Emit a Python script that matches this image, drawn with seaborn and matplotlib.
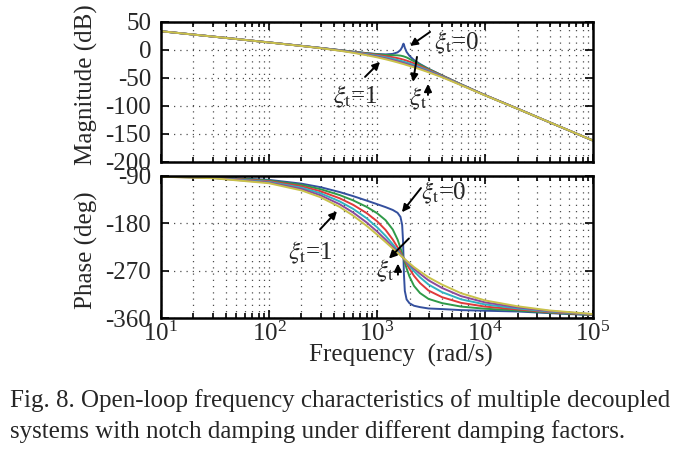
import matplotlib
matplotlib.use("Agg")
import matplotlib.pyplot as plt
import seaborn as sns
import pandas as pd
from matplotlib.ticker import LogLocator, NullFormatter, FixedLocator


## Damping factors and line colours (xi_t = 0 ... 1)
XI = ["0", "0.2", "0.4", "0.6", "0.8", "1"]
COLORS = ["#34509e", "#2f9a48", "#e0393a", "#2fb3c0", "#8c4a9c", "#c9c24a"]

## Frequency grids (rad/s)
freq = [10, 30, 100, 200, 300, 450, 600, 800, 1000, 1200, 1400, 1550, 1650,
        1760, 1880, 2000, 2200, 2500, 3000, 4000, 6000, 10000, 20000, 40000, 100000]
freq_xi0 = [10, 30, 100, 200, 300, 450, 600, 800, 1000, 1200, 1400, 1550, 1650,
            1710, 1745, 1760, 1775, 1810, 1880, 2000, 2200, 2500, 3000, 4000,
            6000, 10000, 20000, 40000, 100000]

## Magnitude (dB)
mag_xi0 = [33.4, 23.9, 13.4, 7.3, 3.6, -0.3, -3.1, -5.7, -7.4, -8.0, -7.1, -4.4, -0.2,
           5.1, 10.1, 11.1, 9.7, 3.9, -3.6, -10.7, -18.0, -25.2, -33.7, -45.4,
           -61.4, -80.6, -104.9, -129.6, -161.9]
mag_xi02 = [33.4, 23.9, 13.4, 7.2, 3.5, -0.3, -3.2, -5.9, -7.9, -9.0, -9.5, -9.7, -10.2,
            -11.4, -13.4, -16.0, -20.5, -26.4, -34.2, -45.6, -61.5, -80.7, -104.9, -129.6, -161.9]
mag_xi04 = [33.4, 23.9, 13.4, 7.2, 3.5, -0.5, -3.5, -6.6, -9.0, -11.1, -13.1, -14.7, -15.9,
            -17.4, -19.1, -21.0, -24.1, -28.7, -35.5, -46.1, -61.7, -80.7, -104.9, -129.6, -161.9]
mag_xi06 = [33.4, 23.9, 13.4, 7.2, 3.4, -0.7, -3.9, -7.4, -10.4, -13.2, -15.9, -18.0, -19.4,
            -20.9, -22.6, -24.3, -27.0, -31.0, -37.0, -46.9, -62.0, -80.9, -105.0, -129.6, -161.9]
mag_xi08 = [33.4, 23.9, 13.4, 7.1, 3.2, -1.0, -4.5, -8.4, -11.9, -15.1, -18.2, -20.4, -21.8,
            -23.4, -25.1, -26.7, -29.3, -33.0, -38.5, -47.8, -62.5, -81.0, -105.0, -129.6, -161.9]
mag_xi1 = [33.4, 23.9, 13.3, 7.0, 3.1, -1.4, -5.1, -9.4, -13.2, -16.7, -20.0, -22.3, -23.8,
           -25.3, -27.0, -28.6, -31.1, -34.6, -39.9, -48.8, -62.9, -81.2, -105.1, -129.6, -161.9]

## Phase (deg)
ph_xi0 = [-90.7, -92.2, -97.4, -104.6, -111.3, -120.5, -128.2, -136.7, -143.5, -149.2,
          -154.6, -160.0, -167.8, -183.0, -216.2, -246.1, -275.8, -308.5, -324.7, -332.0,
          -336.7, -339.3, -341.9, -343.0, -345.0, -346.2, -347.6, -350.8, -354.5]
ph_xi02 = [-90.9, -92.6, -98.6, -107.0, -115.1, -126.2, -136.3, -148.6, -160.6, -174.0,
           -191.8, -210.8, -226.8, -246.1, -265.7, -281.3, -298.9, -312.5, -323.7, -331.7,
           -338.3, -342.4, -345.7, -349.9, -354.2]
ph_xi04 = [-91.0, -93.0, -99.9, -109.6, -119.0, -132.3, -144.7, -160.4, -175.9, -192.5,
           -210.9, -225.6, -235.5, -246.1, -256.8, -266.5, -279.8, -293.5, -307.8, -320.4,
           -331.2, -338.3, -343.7, -348.9, -353.7]
ph_xi06 = [-91.1, -93.4, -101.2, -112.3, -122.9, -138.2, -152.4, -170.2, -187.3, -203.8,
           -219.8, -231.3, -238.6, -246.1, -253.8, -260.8, -271.0, -282.5, -296.4, -310.8,
           -324.5, -334.2, -341.7, -347.9, -353.3]
ph_xi08 = [-91.3, -93.8, -102.5, -114.8, -126.7, -143.6, -159.3, -178.2, -195.4, -210.9,
           -224.8, -234.2, -240.1, -246.1, -252.2, -257.8, -266.2, -275.8, -288.4, -302.9,
           -318.4, -330.3, -339.7, -346.9, -352.9]
ph_xi1 = [-91.4, -94.2, -103.8, -117.4, -130.4, -148.7, -165.2, -184.6, -201.3, -215.6,
          -227.9, -236.0, -241.0, -246.1, -251.3, -256.0, -263.2, -271.4, -282.6, -296.5,
          -312.9, -326.6, -337.7, -345.8, -352.5]


def build_table():
    """Long table: one row per point, per damping factor."""
    grids = [freq_xi0, freq, freq, freq, freq, freq]
    mags = [mag_xi0, mag_xi02, mag_xi04, mag_xi06, mag_xi08, mag_xi1]
    phs = [ph_xi0, ph_xi02, ph_xi04, ph_xi06, ph_xi08, ph_xi1]
    parts = []
    for xi, f, m, p in zip(XI, grids, mags, phs):
        parts.append(pd.DataFrame({"freq": f, "mag": m, "phase": p, "xi": xi}))
    return pd.concat(parts, ignore_index=True)


df = build_table()

sns.set_theme(style="ticks")
plt.rcParams["font.family"] = ["Liberation Serif", "DejaVu Serif"]
plt.rcParams["mathtext.fontset"] = "stix"
plt.rcParams["axes.unicode_minus"] = False

FS = 18

fig = plt.figure(figsize=(6.85, 4.51), dpi=100)
ax_mag = fig.add_axes([0.235, 0.641, 0.6307, 0.3104])
ax_ph = fig.add_axes([0.235, 0.2949, 0.6307, 0.3149])

sns.lineplot(data=df, x="freq", y="mag", hue="xi", hue_order=XI, palette=COLORS,
             estimator=None, sort=False, lw=1.4, legend=False, ax=ax_mag)
sns.lineplot(data=df, x="freq", y="phase", hue="xi", hue_order=XI, palette=COLORS,
             estimator=None, sort=False, lw=1.4, legend=False, ax=ax_ph)

grid_kw = dict(color="0.3", linestyle=(0, (1, 4)), linewidth=0.9)
for ax in (ax_mag, ax_ph):
    ax.set_xscale("log")
    ax.set_xlim(10, 1e5)
    ax.xaxis.set_major_locator(LogLocator(base=10, numticks=10))
    ax.xaxis.set_minor_locator(LogLocator(base=10, subs=range(2, 10), numticks=20))
    ax.xaxis.set_minor_formatter(NullFormatter())
    ax.grid(which="both", axis="x", **grid_kw)
    ax.grid(which="major", axis="y", **grid_kw)
    ax.tick_params(which="both", direction="in", top=True, right=True,
                   labelsize=FS, color="black", width=1.2)
    ax.tick_params(which="major", length=6)
    ax.tick_params(which="minor", length=3.5)
    ax.tick_params(axis="y", pad=7)
    ax.tick_params(axis="x", pad=3)
    for sp in ax.spines.values():
        sp.set_linewidth(1.8)
        sp.set_color("black")
    ax.set_xlabel("")

ax_mag.set_ylim(-200, 50)
ax_mag.yaxis.set_major_locator(FixedLocator([-200, -150, -100, -50, 0, 50]))
ax_mag.tick_params(labelbottom=False)
ax_ph.set_ylim(-360, -90)
ax_ph.yaxis.set_major_locator(FixedLocator([-360, -270, -180, -90]))

ax_mag.set_ylabel("Magnitude (dB)", fontsize=FS)
ax_mag.yaxis.set_label_coords(-0.145, 0.55)
ax_ph.set_ylabel("Phase (deg)", fontsize=FS)
ax_ph.yaxis.set_label_coords(-0.145, 0.48)
ax_ph.set_xlabel("Frequency  (rad/s)", fontsize=FS)
ax_ph.xaxis.set_label_coords(0.556, -0.185)

## Annotations
arrow = dict(arrowstyle="-|>", color="black", lw=1.4, mutation_scale=11,
             shrinkA=0, shrinkB=0)
XI_0 = r"$\xi_{\rm t}$=0"
XI_1 = r"$\xi_{\rm t}$=1"
XI_T = r"$\xi_{\rm t}$"

ax_mag.text(3370, 12.5, XI_0, fontsize=FS, ha="left", va="center")
ax_mag.annotate("", xy=(2020, 7.1), xytext=(3100, 32.1), arrowprops=arrow)
ax_mag.text(625, -84, XI_1, fontsize=FS, ha="center", va="center")
ax_mag.annotate("", xy=(1067, -21.4), xytext=(775, -48.2), arrowprops=arrow)
ax_mag.annotate("", xy=(2155, -57.1), xytext=(2345, -12.5), arrowprops=arrow)
ax_mag.text(2400, -87.5, XI_T, fontsize=FS, ha="center", va="center")
ax_mag.annotate("", xy=(2965, -60.7), xytext=(2965, -80.4), arrowprops=arrow)

ax_ph.text(2553, -122.5, XI_0, fontsize=FS, ha="left", va="center")
ax_ph.annotate("", xy=(1702, -158.9), xytext=(2553, -113), arrowprops=arrow)
ax_ph.text(240, -235.5, XI_1, fontsize=FS, ha="center", va="center")
ax_ph.annotate("", xy=(426, -157), xytext=(297, -191.5), arrowprops=arrow)
ax_ph.annotate("", xy=(1291, -247), xytext=(1977, -208.7), arrowprops=arrow)
ax_ph.text(1186, -270, XI_T, fontsize=FS, ha="center", va="center")
ax_ph.annotate("", xy=(1563, -256.6), xytext=(1563, -277.7), arrowprops=arrow)

## Caption
fig.text(10 / 685, 1 - 401 / 451,
         "Fig. 8. Open-loop frequency characteristics of multiple decoupled",
         fontsize=FS, ha="left", va="center")
fig.text(10 / 685, 1 - 432 / 451,
         "systems with notch damping under different damping factors.",
         fontsize=FS, ha="left", va="center")

fig.savefig("out.png", dpi=100)
